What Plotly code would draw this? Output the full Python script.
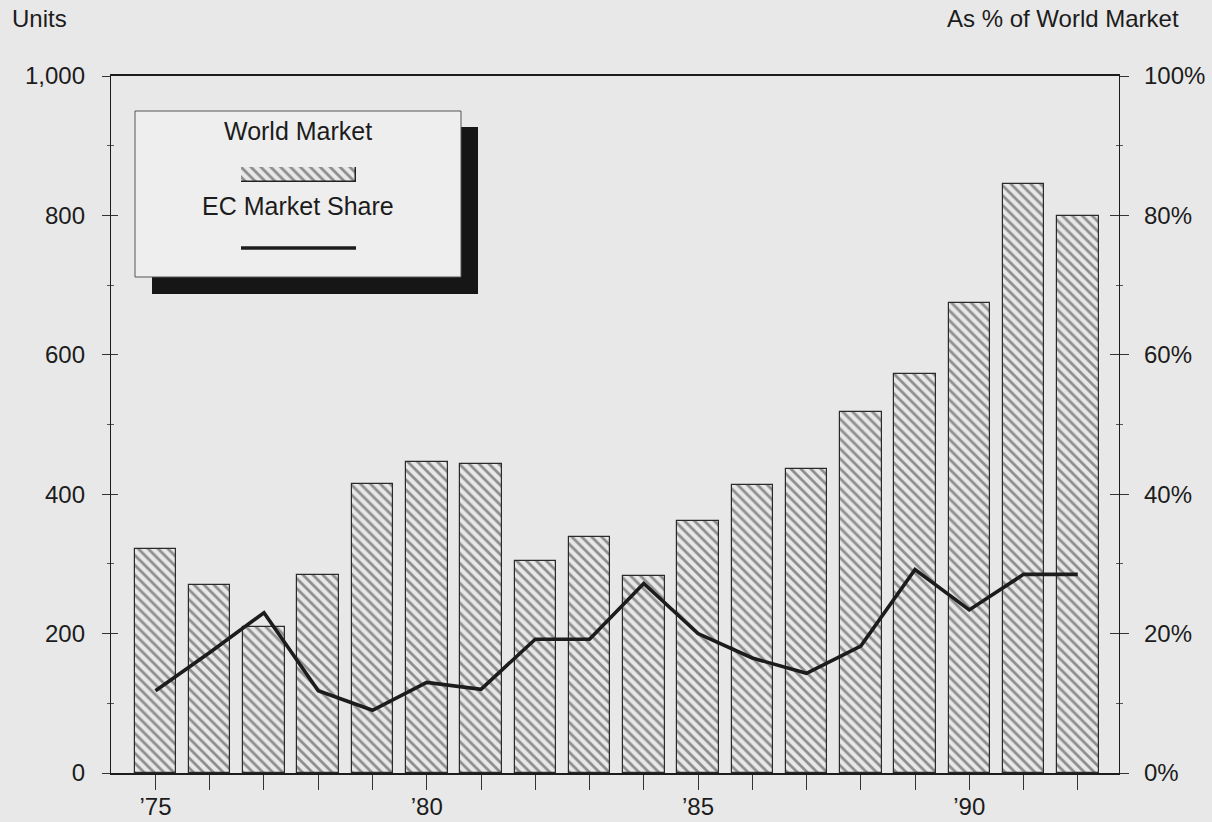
import plotly.graph_objects as go

# ---- data -------------------------------------------------------------
years = list(range(1975, 1993))
world_market_units = [322, 270, 210, 284, 415, 446, 443, 304, 338, 283,
                      362, 413, 436, 518, 573, 674, 845, 799]
ec_share_pct = [11.8, 17.3, 23.0, 11.8, 9.0, 13.0, 12.0, 19.2, 19.2, 27.2,
                20.0, 16.5, 14.3, 18.2, 29.2, 23.4, 28.5, 28.5]
year_labels = [("\u2019" + str(y)[2:]) if y % 5 == 0 else "" for y in years]
unit_ticks = [0, 200, 400, 600, 800, 1000]
unit_labels = ["0", "200", "400", "600", "800", "1,000"]
pct_ticks = [0, 20, 40, 60, 80, 100]
pct_labels = ["0%", "20%", "40%", "60%", "80%", "100%"]

# ---- styling ----------------------------------------------------------
BG = "#e8e8e8"
INK = "#1c1c1c"
HATCH = "#333333"
FONT = "Liberation Sans, Arial, Helvetica, sans-serif"

W, H = 1212, 822
L, R, T, B = 111, 93, 76, 49
PW, PH = W - L - R, H - T - B
X_RANGE = [1974.18, 1992.76]


def px_x(p):
    return (p - L) / PW


def px_y(p):
    return (H - B - p) / PH


hatch = dict(shape="\\", size=7, solidity=0.4, fgcolor=HATCH, bgcolor=BG)

fig = go.Figure()

# World market bars (left axis)
fig.add_trace(go.Bar(
    x=years, y=world_market_units, width=0.765,
    marker=dict(color=BG, pattern=hatch,
                line=dict(color="#2a2a2a", width=1.2)),
    xaxis="x", yaxis="y", showlegend=False, hoverinfo="x+y",
))

# EC market share line (right axis)
fig.add_trace(go.Scatter(
    x=years, y=ec_share_pct, mode="lines",
    line=dict(color=INK, width=3.6),
    xaxis="x", yaxis="y2", showlegend=False,
))

# invisible anchors so the inner tick axes (y3 / y4) get rendered
for ax in ("y3", "y4"):
    fig.add_trace(go.Scatter(
        x=[years[0]], y=[0], mode="markers", marker=dict(opacity=0),
        xaxis="x", yaxis=ax, showlegend=False, hoverinfo="skip",
    ))

# hatched key in the legend box, drawn on its own tiny axes
fig.add_trace(go.Bar(
    x=[0], y=[1], width=1,
    marker=dict(color=BG, pattern=hatch, line=dict(color="#222222", width=1.5)),
    xaxis="x2", yaxis="y5", showlegend=False, hoverinfo="skip",
))

tick_font = dict(family=FONT, size=24, color=INK)

fig.update_layout(
    width=W, height=H,
    margin=dict(l=L, r=R, t=T, b=B, pad=0, autoexpand=False),
    paper_bgcolor=BG, plot_bgcolor=BG,
    bargap=0,
    font=dict(family=FONT, color=INK),
    xaxis=dict(
        range=X_RANGE, tickvals=years, ticktext=year_labels,
        ticks="outside", ticklen=15, tickwidth=1.2, tickcolor="#333",
        showline=True, linecolor=INK, linewidth=1.5, mirror=True,
        showgrid=False, zeroline=False, tickfont=tick_font,
        automargin=False, ticklabelstandoff=-4,
    ),
    yaxis=dict(
        range=[0, 1000], tickvals=unit_ticks, ticktext=unit_labels,
        ticks="outside", ticklen=8, tickwidth=1.2, tickcolor="#333",
        minor=dict(tickvals=[100, 300, 500, 700, 900], ticks="outside",
                   ticklen=3, tickcolor="#555", showgrid=False),
        showline=True, linecolor=INK, linewidth=1.3,
        showgrid=False, zeroline=False, tickfont=tick_font,
        ticklabelstandoff=12, automargin=False,
    ),
    yaxis3=dict(
        overlaying="y", side="left", anchor="x", range=[0, 1000],
        tickvals=unit_ticks, ticks="inside", ticklen=7,
        tickwidth=1.2, tickcolor="#333",
        minor=dict(tickvals=[100, 300, 500, 700, 900], ticks="inside",
                   ticklen=3, tickcolor="#555", showgrid=False),
        showticklabels=False, showgrid=False, zeroline=False, showline=False,
        automargin=False,
    ),
    yaxis2=dict(
        overlaying="y", side="right", anchor="x", range=[0, 100],
        tickvals=pct_ticks, ticktext=pct_labels,
        ticks="outside", ticklen=9, tickwidth=1.2, tickcolor="#333",
        minor=dict(tickvals=[10, 30, 50, 70, 90], ticks="outside",
                   ticklen=3, tickcolor="#555", showgrid=False),
        showline=True, linecolor=INK, linewidth=1.3,
        showgrid=False, zeroline=False, tickfont=tick_font,
        ticklabelstandoff=10, automargin=False,
    ),
    yaxis4=dict(
        overlaying="y", side="right", anchor="x", range=[0, 100],
        tickvals=pct_ticks, ticks="inside", ticklen=9,
        tickwidth=1.2, tickcolor="#333",
        minor=dict(tickvals=[10, 30, 50, 70, 90], ticks="inside",
                   ticklen=3, tickcolor="#555", showgrid=False),
        showticklabels=False, showgrid=False, zeroline=False, showline=False,
        automargin=False,
    ),
    xaxis2=dict(domain=[px_x(241), px_x(356)], anchor="y5", range=[-0.5, 0.5],
                visible=False, fixedrange=True),
    yaxis5=dict(domain=[px_y(182), px_y(167)], anchor="x2", range=[0, 1],
                visible=False, fixedrange=True),
)

# legend panel with drop shadow
fig.add_shape(type="rect", xref="paper", yref="paper", layer="below",
              x0=px_x(152), x1=px_x(478), y0=px_y(294), y1=px_y(127),
              fillcolor="#161616", line=dict(width=0))
fig.add_shape(type="rect", xref="paper", yref="paper", layer="below",
              x0=px_x(135), x1=px_x(461), y0=px_y(277), y1=px_y(111),
              fillcolor="#eeeeee", line=dict(color="#555555", width=1))
fig.add_shape(type="line", xref="paper", yref="paper",
              x0=px_x(241), x1=px_x(356), y0=px_y(248), y1=px_y(248),
              line=dict(color=INK, width=3.5))

fig.add_annotation(text="World Market", xref="paper", yref="paper",
                   x=px_x(298), y=px_y(131), xanchor="center", yanchor="middle",
                   showarrow=False, font=dict(family=FONT, size=25, color=INK))
fig.add_annotation(text="EC Market Share", xref="paper", yref="paper",
                   x=px_x(298), y=px_y(206), xanchor="center", yanchor="middle",
                   showarrow=False, font=dict(family=FONT, size=25, color=INK))

# axis titles
fig.add_annotation(text="Units", xref="paper", yref="paper",
                   x=px_x(10), y=px_y(19), xanchor="left", yanchor="middle",
                   showarrow=False, font=dict(family=FONT, size=24, color=INK))
fig.add_annotation(text="As % of World Market", xref="paper", yref="paper",
                   x=px_x(1181), y=px_y(19), xanchor="right", yanchor="middle",
                   showarrow=False, font=dict(family=FONT, size=24, color=INK))

fig.write_html("out.html")
